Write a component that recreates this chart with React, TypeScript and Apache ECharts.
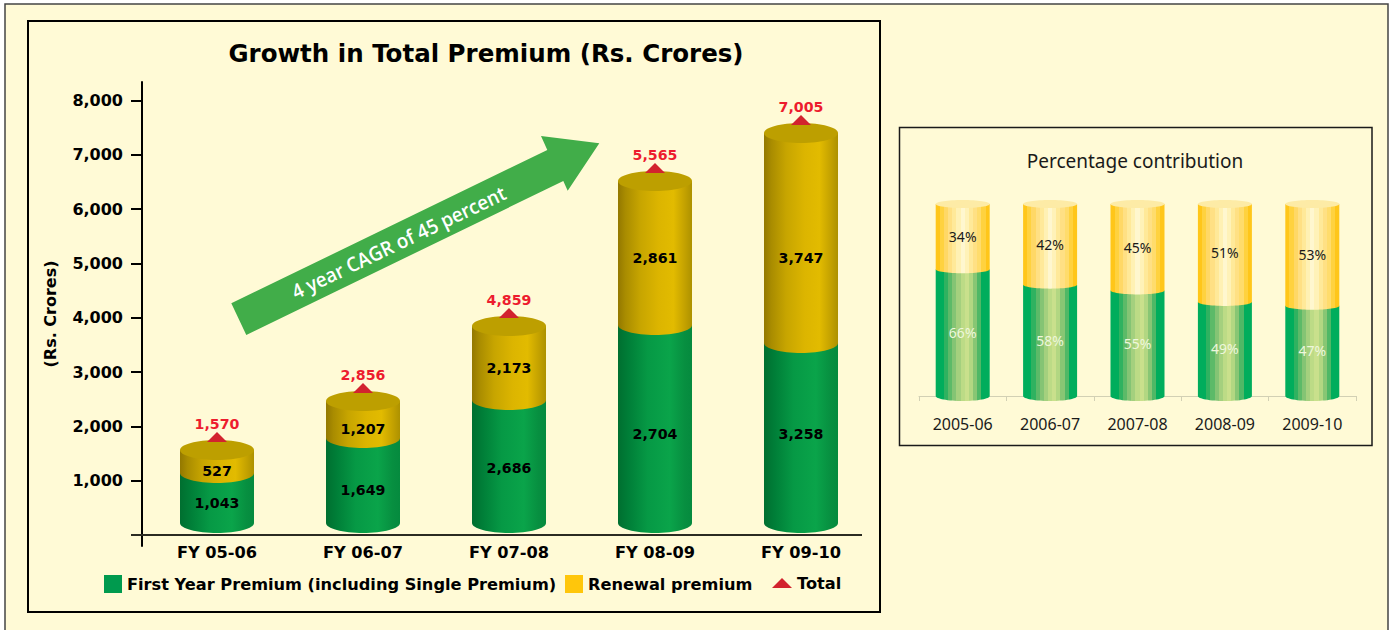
import React, { useEffect, useRef } from "react";
import * as echarts from "echarts";

// ---- Left chart: printed labels
const fiscalYears = ["FY 05-06", "FY 06-07", "FY 07-08", "FY 08-09", "FY 09-10"];
const firstYearPremium = [1043, 1649, 2686, 2704, 3258];
const renewalPremium = [527, 1207, 2173, 2861, 3747];
const totalPremium = [1570, 2856, 4859, 5565, 7005];
// The source artwork's cylinders are not to scale with their printed labels,
// so their heights are read separately, against the picture's own value axis.
const cylinderFloor = 221;
const firstYearDrawnTop = [1142, 1786, 2486, 3867, 3536];
const totalDrawnTop = [1565, 2468, 3849, 6519, 7403];
const yTicks = [1000, 2000, 3000, 4000, 5000, 6000, 7000, 8000];

// ---- Right chart
const shareYears = ["2005-06", "2006-07", "2007-08", "2008-09", "2009-10"];
const firstYearShare = [66, 58, 55, 49, 47];
const renewalShare = [34, 42, 45, 51, 53];

// ---- Styles
const PAPER = "#fffad6";
const BOLD = "DejaVu Sans";
const LIGHT = "Noto Sans";
const stops = (list: [number, string][]) =>
  new echarts.graphic.LinearGradient(0, 0, 1, 0, list.map(([offset, color]) => ({ offset, color })));
const darkGreen = () => stops([[0, "#006f30"], [0.15, "#007f38"], [0.4, "#069945"], [0.7, "#0aa44a"], [0.9, "#078f40"], [1, "#058a3e"]]);
const darkGold = () => stops([[0, "#937800"], [0.1, "#a98c00"], [0.3, "#c7a500"], [0.55, "#dcb500"], [0.75, "#e2bb00"], [0.9, "#c4a200"], [1, "#ad9100"]]);
const band = (colors: string[]) => {
  const out: [number, string][] = [];
  colors.forEach((c, i) => {
    out.push([i / colors.length, c]);
    out.push([(i + 1) / colors.length, c]);
  });
  return stops(out);
};
const paleGreen = () => band(["#00ad5c", "#00ad5c", "#2fb260", "#5cba68", "#84c474", "#a4d07e", "#bcdb86", "#c9e08c", "#b2d782", "#88c674", "#4fb866", "#00ad5c", "#00ad5c"]);
const paleGold = () => band(["#ffc61a", "#ffd23f", "#ffd866", "#ffe084", "#ffe999", "#fff1b4", "#fff7cf", "#fff2b8", "#ffe999", "#ffe084", "#ffdc6c", "#ffd23f", "#ffc61a"]);

// first-series and renewal-series label nudges in px, relative to the segment middle
const firstNudge = [5, 10, 7, 10, 1];
const renewalNudge = [10, 10, 5, 5, 20];

function cylinderPoints(cx: number, halfW: number, ry: number, top: number, bottom: number) {
  const pts: number[][] = [[cx - halfW, top], [cx - halfW, bottom]];
  for (let k = 1; k < 32; k++) {
    const a = Math.PI - (k / 32) * Math.PI;
    pts.push([cx + halfW * Math.cos(a), bottom + ry * Math.sin(a)]);
  }
  pts.push([cx + halfW, bottom], [cx + halfW, top]);
  return pts;
}

function segmentRenderer(opts: {
  halfW: number;
  ry: number;
  fill: () => any;
  labels: (number | string)[];
  format: (v: any) => string;
  font: string;
  color: string;
  nudge?: number[];
  cap?: string;
  capRy?: number;
}) {
  return (params: any, api: any) => {
    const i = api.value(0);
    const [cx, yTop] = api.coord([i, api.value(2)]);
    const [, yBot] = api.coord([i, api.value(1)]);
    const children: any[] = [
      {
        type: "polygon",
        shape: { points: cylinderPoints(cx, opts.halfW, opts.ry, yTop, yBot) },
        style: { fill: opts.fill() },
      },
    ];
    if (opts.cap) {
      children.push({
        type: "ellipse",
        shape: { cx, cy: yTop, rx: opts.halfW, ry: opts.capRy ?? opts.ry },
        style: { fill: opts.cap },
      });
    }
    children.push({
      type: "text",
      style: {
        x: cx,
        y: (yTop + yBot) / 2 + (opts.nudge ? opts.nudge[i] : 0),
        text: opts.format(opts.labels[i]),
        textAlign: "center",
        textVerticalAlign: "middle",
        font: opts.font,
        fill: opts.color,
      },
    });
    return { type: "group", children };
  };
}

const fmt = (v: number) => v.toLocaleString("en-US");
const labelFont = `bold 14.2px "${BOLD}"`;

function buildOption() {
  const first = fiscalYears.map((_, i) => [i, cylinderFloor, firstYearDrawnTop[i]]);
  const renewal = fiscalYears.map((_, i) => [i, firstYearDrawnTop[i], totalDrawnTop[i]]);
  const totals = fiscalYears.map((_, i) => [i, totalDrawnTop[i]]);
  const shareFirst = shareYears.map((_, i) => [i, 0, firstYearShare[i]]);
  const shareRenewal = shareYears.map((_, i) => [i, firstYearShare[i], 100]);

  return {
    animation: false,
    backgroundColor: "#ffffff",
    title: [
      {
        text: "Growth in Total Premium (Rs. Crores)",
        left: 481,
        top: 36,
        textAlign: "center",
        textStyle: { fontFamily: BOLD, fontWeight: "bold", fontSize: 24.5, color: "#000" },
      },
      {
        text: "Percentage contribution",
        left: 1130,
        top: 146,
        textAlign: "center",
        textStyle: { fontFamily: LIGHT, fontWeight: "normal", fontSize: 19, color: "#1a1a1a" },
      },
    ],
    legend: [
      { name: "First Year Premium (including Single Premium)", left: 104, top: 575, icon: "rect", w: 18, h: 18 },
      { name: "Renewal premium", left: 565, top: 575, icon: "rect", w: 18, h: 18 },
      { name: "Total", left: 772, top: 575, icon: "triangle", w: 20, h: 10 },
    ].map((l) => ({
      data: [l.name],
      left: l.left,
      top: l.top,
      icon: l.icon,
      itemWidth: l.w,
      itemHeight: l.h,
      padding: 0,
      selectedMode: false,
      textStyle: { fontFamily: BOLD, fontWeight: "bold", fontSize: 16.2, color: "#000" },
    })),
    grid: [
      { left: 144, top: 82, width: 730, height: 464 },
      { left: 919, top: 204, width: 437, height: 192 },
    ],
    xAxis: [
      {
        type: "category",
        gridIndex: 0,
        data: fiscalYears,
        axisLine: { show: false, onZero: true },
        axisTick: { show: false },
        axisLabel: {
          margin: -2,
          color: "#000",
          fontFamily: BOLD,
          fontWeight: "bold",
          fontSize: 16.2,
        },
      },
      {
        type: "category",
        gridIndex: 1,
        data: shareYears,
        axisLine: { show: true, lineStyle: { color: "#d2d0b4", width: 1 } },
        axisTick: { show: true, length: 5, lineStyle: { color: "#d2d0b4", width: 1 } },
        axisLabel: { margin: 20, color: "#1a1a1a", fontFamily: LIGHT, fontSize: 16 },
      },
    ],
    yAxis: [
      {
        type: "value",
        gridIndex: 0,
        min: -203,
        max: 8343,
        offset: 2,
        splitLine: { show: false },
        axisLine: { show: true, onZero: false, lineStyle: { color: "#000", width: 2 } },
        axisTick: { show: true, length: 11, customValues: yTicks, lineStyle: { color: "#000", width: 2 } },
        axisLabel: {
          margin: 19,
          padding: [4, 0, 0, 0],
          customValues: yTicks,
          formatter: (v: number) => fmt(v),
          color: "#000",
          fontFamily: BOLD,
          fontWeight: "bold",
          fontSize: 16,
        },
        name: "(Rs. Crores)",
        nameLocation: "middle",
        nameRotate: 90,
        nameGap: 84,
        nameTextStyle: { fontFamily: BOLD, fontWeight: "bold", fontSize: 16, color: "#000" },
      },
      { type: "value", gridIndex: 1, min: 0, max: 100, show: false },
    ],
    series: [
      {
        type: "custom",
        name: "First Year Premium (including Single Premium)",
        xAxisIndex: 0,
        yAxisIndex: 0,
        data: first,
        itemStyle: { color: "#009a4e" },
        clip: false,
        renderItem: segmentRenderer({
          halfW: 37,
          ry: 10,
          fill: darkGreen,
          labels: firstYearPremium,
          format: fmt,
          font: labelFont,
          color: "#000",
          nudge: firstNudge,
        }),
      },
      {
        type: "custom",
        name: "Renewal premium",
        xAxisIndex: 0,
        yAxisIndex: 0,
        data: renewal,
        itemStyle: { color: "#ffc60b" },
        clip: false,
        renderItem: segmentRenderer({
          halfW: 37,
          ry: 10,
          fill: darkGold,
          labels: renewalPremium,
          format: fmt,
          font: labelFont,
          color: "#000",
          nudge: renewalNudge,
          cap: "#bd9f00",
        }),
      },
      {
        type: "custom",
        name: "Total",
        xAxisIndex: 0,
        yAxisIndex: 0,
        data: totals,
        itemStyle: { color: "#d2232e" },
        clip: false,
        renderItem: (params: any, api: any) => {
          const i = api.value(0);
          const [cx, cy] = api.coord([i, api.value(1)]);
          return {
            type: "group",
            children: [
              {
                type: "polygon",
                shape: { points: [[cx - 10, cy - 8], [cx, cy - 18], [cx + 10, cy - 8]] },
                style: { fill: "#d2232e" },
              },
              {
                type: "text",
                style: {
                  x: cx,
                  y: cy - 26,
                  text: fmt(totalPremium[i]),
                  textAlign: "center",
                  textVerticalAlign: "middle",
                  font: labelFont,
                  fill: "#ed1c2e",
                },
              },
            ],
          };
        },
      },
      {
        type: "custom",
        name: "First year share",
        xAxisIndex: 1,
        yAxisIndex: 1,
        data: shareFirst,
        clip: false,
        renderItem: segmentRenderer({
          halfW: 27,
          ry: 5,
          fill: paleGreen,
          labels: firstYearShare,
          format: (v) => `${v}%`,
          font: `14px "${LIGHT}"`,
          color: "#eef7dc",
        }),
      },
      {
        type: "custom",
        name: "Renewal share",
        xAxisIndex: 1,
        yAxisIndex: 1,
        data: shareRenewal,
        clip: false,
        renderItem: segmentRenderer({
          halfW: 27,
          ry: 4,
          fill: paleGold,
          labels: renewalShare,
          format: (v) => `${v}%`,
          font: `14px "${LIGHT}"`,
          color: "#1a1a1a",
          cap: "#fdeba6",
        }),
      },
    ],
    graphic: [
      {
        type: "rect",
        z: 0,
        shape: { x: 5, y: 4, width: 1383, height: 640 },
        style: { fill: PAPER, stroke: "#444", lineWidth: 1.5 },
      },
      {
        type: "rect",
        z: 0,
        shape: { x: 28, y: 21, width: 852, height: 591 },
        style: { fill: PAPER, stroke: "#000", lineWidth: 2 },
      },
      {
        type: "rect",
        z: 0,
        shape: { x: 899.5, y: 127.5, width: 472.5, height: 318 },
        style: { fill: PAPER, stroke: "#1a1a1a", lineWidth: 1.5 },
      },
      {
        type: "line",
        z: 1,
        shape: { x1: 131, y1: 535, x2: 862, y2: 535 },
        style: { stroke: "#2b2b22", lineWidth: 2 },
      },
      {
        type: "polygon",
        z: 1,
        shape: {
          points: [
            [231.3, 303.3],
            [547.3, 150],
            [541, 136],
            [599.3, 143.3],
            [567.7, 190.7],
            [563.3, 181],
            [246.3, 335],
          ],
        },
        style: { fill: "#41ad49" },
      },
      {
        type: "text",
        z: 2,
        x: 398.5,
        y: 242,
        rotation: 0.445,
        scaleX: 0.94,
        style: {
          text: "4 year CAGR of 45 percent",
          textAlign: "center",
          textVerticalAlign: "middle",
          font: `600 20px "Open Sans"`,
          fill: "#ffffff",
        },
      },
    ],
  };
}

export default function App() {
  const ref = useRef<HTMLDivElement>(null);
  useEffect(() => {
    const chart = echarts.init(ref.current!, undefined, { renderer: "svg" });
    chart.setOption(buildOption() as any);
    return () => chart.dispose();
  }, []);
  return <div ref={ref} style={{ position: "absolute", left: 0, top: 0, width: 1394, height: 630 }} />;
}
